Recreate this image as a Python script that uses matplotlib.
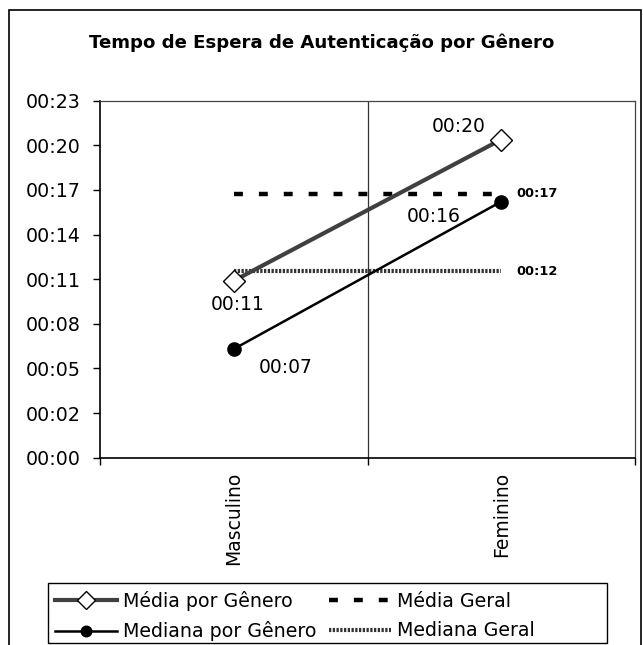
import matplotlib.pyplot as plt
from matplotlib.patches import Rectangle
from matplotlib.ticker import FixedLocator, FuncFormatter

# tempos em segundos
generos = ['Masculino', 'Feminino']
media_genero = [11.4, 20.5]
mediana_genero = [7.0, 16.5]
media_geral = 17.0
mediana_geral = 12.0
y_max = 23.0
n_div = 8


def fmt_tempo(v, pos=None):
    s = int(v + 1e-6)
    return '%02d:%02d' % (s // 60, s % 60)


plt.rcParams['font.family'] = ['DejaVu Sans']
W, H = 643.0, 645.0

fig = plt.figure(figsize=(W / 100, H / 100), dpi=100)
# moldura externa e caixa da legenda
fig.patches.append(Rectangle((9 / W, -0.01), 632 / W, (635 / H) + 0.01,
                             transform=fig.transFigure, fill=False,
                             edgecolor='black', lw=1.2))
fig.patches.append(Rectangle((48 / W, (H - 643) / H), 559 / W, 60 / H,
                             transform=fig.transFigure, fill=False,
                             edgecolor='black', lw=1.0))

ax = fig.add_axes([100 / W, (H - 457.7) / H, 535 / W, 357 / H])
x = list(range(len(generos)))

ax.axvline(0.5, color='#333333', lw=0.9, zorder=1)

ax.plot([0, 1], [media_geral] * 2, color='black', lw=3.2,
        dashes=(2.0, 3.6), label='Média Geral', zorder=2)
ax.plot([0, 1], [mediana_geral] * 2, color='#333333', lw=3.0,
        dashes=(0.55, 0.35), label='Mediana Geral', zorder=2)
ln_media, = ax.plot(x, media_genero, color='#404040', lw=3.0, marker='D',
                    ms=11, mfc='white', mec='black', mew=1.0,
                    label='Média por Gênero', zorder=4)
ln_mediana, = ax.plot(x, mediana_genero, color='black', lw=1.8, marker='o',
                      ms=9.5, mfc='black', mec='black',
                      label='Mediana por Gênero', zorder=3)

# rótulos dos pontos
offsets_media = [(4, -24), (-43, 13)]
offsets_mediana = [(52, -18), (-68, -15)]
for i in x:
    ax.annotate(fmt_tempo(media_genero[i]), (i, media_genero[i]),
                xytext=offsets_media[i], textcoords='offset pixels',
                ha='center', va='center', fontsize=13.5)
    ax.annotate(fmt_tempo(mediana_genero[i]), (i, mediana_genero[i]),
                xytext=offsets_mediana[i], textcoords='offset pixels',
                ha='center', va='center', fontsize=13.5)
for v in (media_geral, mediana_geral):
    ax.annotate(fmt_tempo(v), (1, v), xytext=(15, 0),
                textcoords='offset pixels', ha='left', va='center',
                fontsize=9.4, fontweight='bold')

ax.set_xlim(-0.5, 1.5)
ax.set_ylim(0, y_max)
ax.yaxis.set_major_locator(FixedLocator([y_max * k / n_div for k in range(n_div + 1)]))
ax.yaxis.set_major_formatter(FuncFormatter(fmt_tempo))
ax.tick_params(axis='y', direction='out', length=5, width=1, labelsize=13.7, pad=9)

ax.set_xticks(x)
ax.set_xticklabels(generos, rotation=90, va='top', ha='center')
ax.set_xticks([-0.5, 0.5, 1.5], minor=True)
ax.tick_params(axis='x', which='major', length=0, labelsize=13.5, pad=10)
ax.tick_params(axis='x', which='minor', direction='out', length=5, width=1)

for side in ('top', 'right'):
    ax.spines[side].set_color('#444444')
    ax.spines[side].set_linewidth(0.9)
for side in ('left', 'bottom'):
    ax.spines[side].set_linewidth(1.2)

handles = [ln_media, ln_mediana] + ax.get_lines()[1:3]
fig.legend(handles, [h.get_label() for h in handles], ncol=2,
           loc='upper left', bbox_to_anchor=(55 / W, 1 - 591 / H),
           fontsize=13.7, frameon=False, borderpad=0, borderaxespad=0,
           handlelength=3.25, handletextpad=0.31, columnspacing=0.68,
           labelspacing=0.55, markerscale=0.8)

fig.text(0.5, 1 - 43 / H, 'Tempo de Espera de Autenticação por Gênero',
         ha='center', va='center', fontsize=13.1, fontweight='bold')

fig.savefig('out.png', dpi=100)
